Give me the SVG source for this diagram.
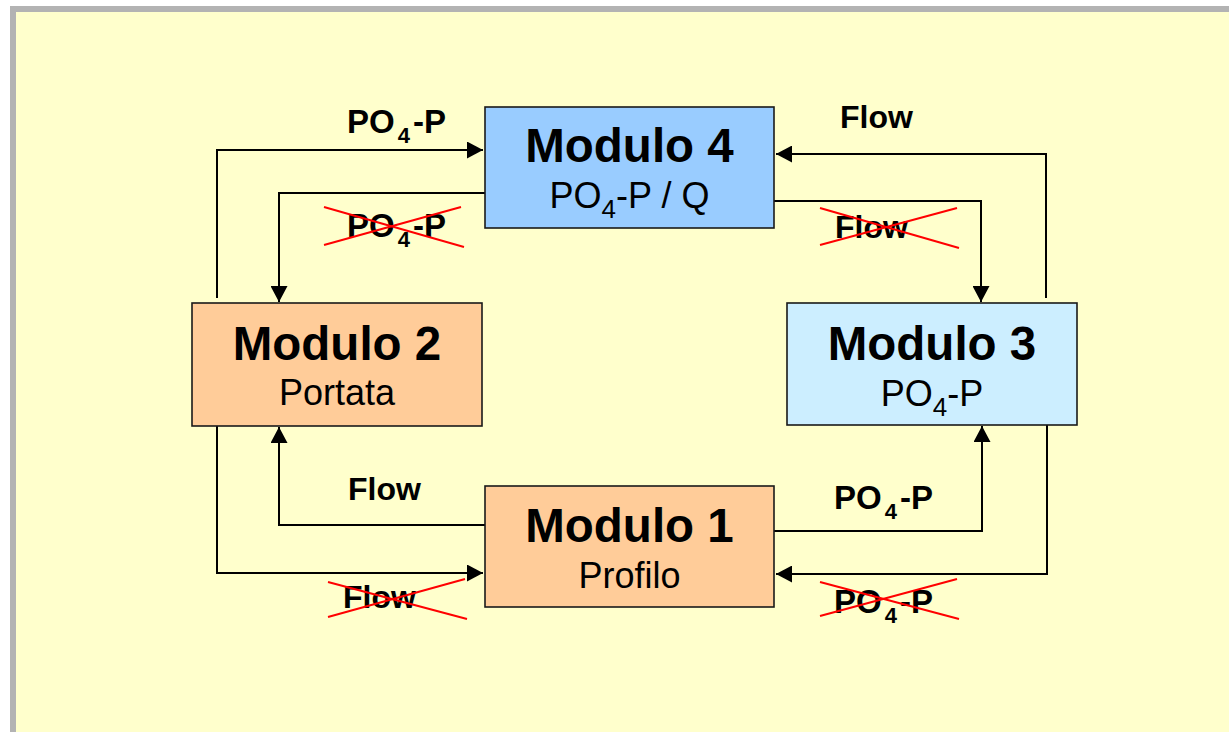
<svg xmlns="http://www.w3.org/2000/svg" width="1229" height="732" viewBox="0 0 1229 732">
<style>
.box{stroke:#1a1a1a;stroke-width:1.6}
.title{font-family:"Liberation Sans",Arial,sans-serif;font-weight:bold;font-size:47.5px;fill:#000;text-anchor:middle}
.sub{font-family:"Liberation Sans",Arial,sans-serif;font-size:36px;fill:#000;text-anchor:middle}
.lbl{font-family:"Liberation Sans",Arial,sans-serif;font-weight:bold;font-size:32px;fill:#000}
.po{font-size:33px}
.conn{fill:none;stroke:#000;stroke-width:2}
.x{stroke:#ff0000;stroke-width:2}
</style>
<defs>
<marker id="arr" markerUnits="userSpaceOnUse" markerWidth="17" markerHeight="17" refX="16" refY="8.5" orient="auto">
<path d="M0,0 L16,8.5 L0,17 Z" fill="#000"/>
</marker>
</defs>
<rect x="0" y="0" width="1229" height="732" fill="#ffffff"/>
<rect x="10" y="6" width="1219" height="726" fill="#b3b3b3"/>
<rect x="16" y="12" width="1213" height="720" fill="#ffffcc"/>

<g id="connectors">
<path class="conn" d="M217,298 V150 H483" marker-end="url(#arr)"/>
<path class="conn" d="M485,193 H279 V302" marker-end="url(#arr)"/>
<path class="conn" d="M1046,298 V154 H776" marker-end="url(#arr)"/>
<path class="conn" d="M774,201 H981 V302" marker-end="url(#arr)"/>
<path class="conn" d="M485,525 H279 V427" marker-end="url(#arr)"/>
<path class="conn" d="M217,426 V573 H483" marker-end="url(#arr)"/>
<path class="conn" d="M774,531 H982 V426" marker-end="url(#arr)"/>
<path class="conn" d="M1047,425 V574 H776" marker-end="url(#arr)"/>
</g>

<g id="labels">
<text class="lbl po" x="347" y="133">PO<tspan font-size="22" dy="10" dx="3">4</tspan><tspan dy="-10" dx="3">-P</tspan></text>
<text class="lbl po" x="347" y="237">PO<tspan font-size="22" dy="10" dx="3">4</tspan><tspan dy="-10" dx="3">-P</tspan></text>
<line class="x" x1="324" y1="245" x2="461" y2="207"/>
<line class="x" x1="324" y1="207" x2="464" y2="247"/>
<text class="lbl" x="840" y="128">Flow</text>
<text class="lbl" x="835" y="238">Flow</text>
<line class="x" x1="820" y1="245" x2="957" y2="208"/>
<line class="x" x1="820" y1="208" x2="959" y2="248"/>
<text class="lbl" x="348" y="500">Flow</text>
<text class="lbl" x="343" y="608">Flow</text>
<line class="x" x1="328" y1="617" x2="465" y2="579"/>
<line class="x" x1="328" y1="582" x2="467" y2="619"/>
<text class="lbl po" x="834" y="509">PO<tspan font-size="22" dy="10" dx="3">4</tspan><tspan dy="-10" dx="3">-P</tspan></text>
<text class="lbl po" x="834" y="613">PO<tspan font-size="22" dy="10" dx="3">4</tspan><tspan dy="-10" dx="3">-P</tspan></text>
<line class="x" x1="820" y1="616" x2="957" y2="579"/>
<line class="x" x1="820" y1="582" x2="959" y2="619"/>
</g>

<g id="modulo4">
<rect class="box" x="485" y="107" width="289" height="121" fill="#99ccff"/>
<text class="title" x="629.5" y="162">Modulo 4</text>
<text class="sub" x="629.5" y="208">PO<tspan font-size="26" dy="10">4</tspan><tspan dy="-10">-P / Q</tspan></text>
</g>
<g id="modulo2">
<rect class="box" x="192" y="303" width="290" height="123" fill="#ffcc99"/>
<text class="title" x="337" y="360">Modulo 2</text>
<text class="sub" x="337" y="405">Portata</text>
</g>
<g id="modulo3">
<rect class="box" x="787" y="303" width="290" height="122" fill="#cceeff"/>
<text class="title" x="932" y="360">Modulo 3</text>
<text class="sub" x="932" y="406">PO<tspan font-size="26" dy="10">4</tspan><tspan dy="-10">-P</tspan></text>
</g>
<g id="modulo1">
<rect class="box" x="485" y="486" width="289" height="121" fill="#ffcc99"/>
<text class="title" x="629.5" y="542">Modulo 1</text>
<text class="sub" x="629.5" y="588">Profilo</text>
</g>
</svg>
